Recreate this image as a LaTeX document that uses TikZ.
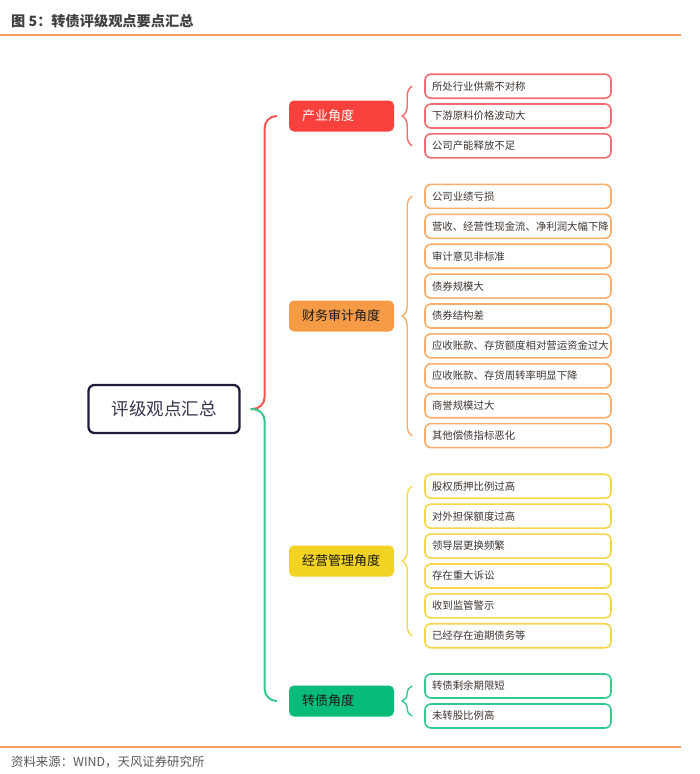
\documentclass[tikz,border=0pt]{standalone}
\usepackage{fontspec}
\setmainfont{Noto Sans CJK SC}
\usetikzlibrary{decorations.pathreplacing}
\definecolor{cRed}{HTML}{F8413C}
\definecolor{cRedL}{HTML}{F26B6E}
\definecolor{cOra}{HTML}{F59A45}
\definecolor{cOraL}{HTML}{F7AE6B}
\definecolor{cYel}{HTML}{F2D321}
\definecolor{cYelL}{HTML}{F5D748}
\definecolor{cGre}{HTML}{06BC78}
\definecolor{cGreL}{HTML}{34C98D}
\definecolor{cNavy}{HTML}{1D1D3B}
\definecolor{cRule}{HTML}{F5A05A}
\definecolor{cTxt}{HTML}{3D3530}
\newcommand{\leaftxt}[1]{\makebox[172pt][l]{#1}}
\newcommand{\cattxt}[1]{\makebox[79pt][l]{#1}}
\begin{document}
\begin{tikzpicture}[x=1pt,y=-1pt,
  leaf/.style={draw, rounded corners=6pt, line width=1.6pt, fill=white,
    minimum height=24pt, inner xsep=7pt, inner ysep=0pt, text=cTxt,
    font=\fontsize{10.4}{12}\selectfont},
  cat/.style={rounded corners=5pt, minimum height=31pt, inner xsep=13pt, inner ysep=0pt,
    text=black!90, font=\fontsize{13}{15}\selectfont},
  conn/.style={line width=2pt, rounded corners=12pt},
  brc/.style={line width=1.4pt, decorate, decoration={brace, amplitude=10pt}}
]
\useasboundingbox (0,0) rectangle (700,774);
% title and rules
\node[anchor=west, inner sep=0pt, text=black!75, font=\fontsize{14.2}{17}\selectfont\bfseries] (title) at (11,21) {图 5：转债评级观点要点汇总};
\coordinate (tl) at (0,35);
\coordinate (tr) at (681,35);
\draw[cRule, line width=1.3pt] (tl) -- (tr);
\coordinate (bl) at (0,747);
\coordinate (br) at (681,747);
\draw[cRule, line width=1.3pt] (bl) -- (br);
\node[anchor=west, inner sep=0pt, text=black!65, font=\fontsize{12.4}{15}\selectfont] (src) at (11,762) {资料来源：WIND，天风证券研究所};
% root
\node[draw=cNavy, line width=2.3pt, rounded corners=6pt, minimum width=151pt, minimum height=48pt,
  text=cNavy!90, font=\fontsize{17.5}{20}\selectfont] (root) at (164,409) {评级观点汇总};
% categories
\node[cat, fill=cRed, text=white] (n1) at (341.5,116) {\cattxt{产业角度}};
\node[cat, fill=cOra] (n2) at (341.5,316) {\cattxt{财务审计角度}};
\node[cat, fill=cYel] (n3) at (341.5,561) {\cattxt{经营管理角度}};
\node[cat, fill=cGre] (n4) at (341.5,701) {\cattxt{转债角度}};
% connectors from root
\coordinate (hub) at ([xshift=10pt]root.east);
\draw[conn, draw=cRed!90] (hub) -- ++(14,0) |- ([xshift=-12pt]n1.west);
\draw[conn, draw=cGreL] (hub) -- ++(14,0) |- ([xshift=-12pt]n4.west);
% leaves
\foreach \t [count=\i] in {所处行业供需不对称,下游原料价格波动大,公司产能释放不足}
  \node[leaf, draw=cRedL] (a\i) at (518,{116+(\i-2)*29.8}) {\leaftxt{\t}};
\foreach \t [count=\i] in {公司业绩亏损,营收、经营性现金流、净利润大幅下降,审计意见非标准,债券规模大,债券结构差,应收账款、存货额度相对营运资金过大,应收账款、存货周转率明显下降,商誉规模过大,其他偿债指标恶化}
  \node[leaf, draw=cOraL] (b\i) at (518,{316+(\i-5)*29.9}) {\leaftxt{\t}};
\foreach \t [count=\i] in {股权质押比例过高,对外担保额度过高,领导层更换频繁,存在重大诉讼,收到监管警示,已经存在逾期债务等}
  \node[leaf, draw=cYelL] (c\i) at (518,{561+(\i-3.5)*29.9}) {\leaftxt{\t}};
\foreach \t [count=\i] in {转债剩余期限短,未转股比例高}
  \node[leaf, draw=cGreL] (d\i) at (518,{701+(\i-1.5)*30}) {\leaftxt{\t}};
% braces
\draw[brc, draw=cRedL] ([xshift=-12pt]a3.west) -- ([xshift=-12pt]a1.west);
\draw[brc, draw=cOraL] ([xshift=-12pt]b9.west) -- ([xshift=-12pt]b1.west);
\draw[brc, draw=cYelL] ([xshift=-12pt]c6.west) -- ([xshift=-12pt]c1.west);
\draw[brc, draw=cGreL] ([xshift=-12pt]d2.west) -- ([xshift=-12pt]d1.west);
\end{tikzpicture}
\end{document}
